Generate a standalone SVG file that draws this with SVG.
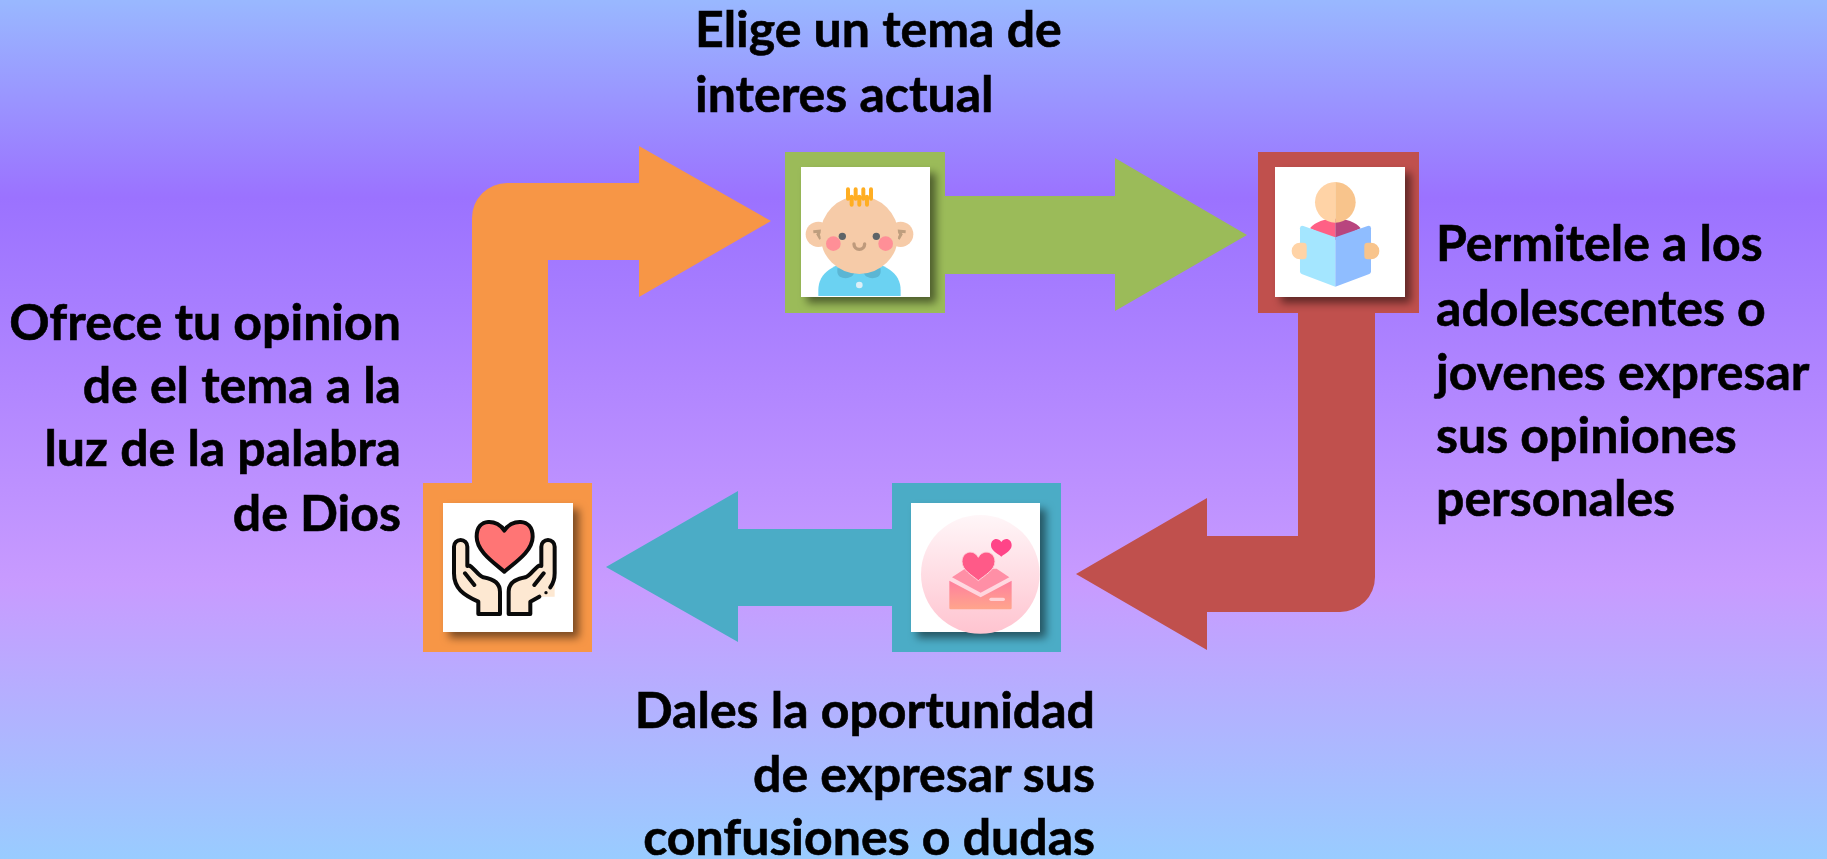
<svg xmlns="http://www.w3.org/2000/svg" width="1827" height="859" viewBox="0 0 1827 859">
<style>
.t{font-family:"Lato","Liberation Sans",sans-serif;font-weight:700;font-size:50px;fill:#000;stroke:#000;stroke-width:.6px}
.e{text-anchor:end}
.o{fill:#F79646}.g{fill:#9BBB59}.r{fill:#C0504D}.b{fill:#4BACC6}
.w{fill:#fff;filter:url(#sh)}
</style>
<defs>
<linearGradient id="bg" x1="0" y1="0" x2="0" y2="1">
<stop offset="0" stop-color="#99B8FF"/><stop offset=".23" stop-color="#9B72FF"/><stop offset=".68" stop-color="#C89BFF"/><stop offset="1" stop-color="#99CCFF"/>
</linearGradient>
<linearGradient id="c1" x1="0" y1="0" x2="0" y2="1"><stop offset="0" stop-color="#FFF6F8"/><stop offset="1" stop-color="#FFC4D0"/></linearGradient>
<linearGradient id="c2" x1="0" y1="0" x2="0" y2="1"><stop offset="0" stop-color="#FF7F9E"/><stop offset="1" stop-color="#FFA58C"/></linearGradient>
<filter id="sh" x="-20%" y="-20%" width="140%" height="140%"><feDropShadow dx="6" dy="6" stdDeviation="4.5" flood-color="#000" flood-opacity=".5"/></filter>
</defs>
<rect width="1827" height="859" fill="url(#bg)"/>
<g id="connectors">
<path class="o" d="M472 483V218a35 35 0 0 1 35-35H639V146L771 221 639 297V260H548V483Z"/>
<path class="g" d="M940 196H1115V158L1247 235 1115 311V274H940Z"/>
<path class="r" d="M1298 310H1375V577a35 35 0 0 1-35 35H1207V650L1076 574 1207 498V536H1298Z"/>
<path class="b" d="M895 529H738V491L606 567 738 642V606H895Z"/>
</g>
<g id="node-tema">
<rect class="g" x="785" y="152" width="160" height="161"/>
<rect class="w" x="801" y="167" width="129" height="130"/>
<g transform="translate(780 140) scale(.3333)">
<circle cx="115" cy="283" r="38" fill="#F6CBA8"/><circle cx="362" cy="283" r="38" fill="#F6CBA8"/>
<path d="M100 275l22-2-8 10 8 14M377 275l-22-2 8 10-8 14" fill="none" stroke="#BE9E7E" stroke-width="9"/>
<path d="M115 468V450C115 400 160 365 238 365S362 400 362 450V468Z" fill="#6BD2F2"/>
<path d="M172 385h130v10c0 25-45 25-50 5h-30c-5 20-50 20-50-5Z" fill="#5BB6D4"/>
<circle cx="238" cy="435" r="10" fill="#DDEFF7"/>
<circle cx="238" cy="285" r="117" fill="#F6CBA8"/>
<path d="M204 148v28M227 148v28M250 148v28M273 148v28M215 170v24M238 170v24M261 170v24" stroke="#FFAE22" stroke-width="12" stroke-linecap="round"/>
<circle cx="187" cy="289" r="11" fill="#5E6468"/><circle cx="289" cy="289" r="11" fill="#5E6468"/>
<circle cx="160" cy="311" r="22" fill="#FF8F97"/><circle cx="317" cy="311" r="22" fill="#FF8F97"/>
<path d="M222 312a16 16 0 0 0 32 0" fill="none" stroke="#BE9A7C" stroke-width="10" stroke-linecap="round"/>
</g>
</g>
<g id="node-expresar">
<rect class="r" x="1258" y="152" width="161" height="161"/>
<rect class="w" x="1275" y="167" width="130" height="130"/>
<g transform="translate(1255 140) scale(.3333)">
<path d="M165 265C180 245 210 236 241 236V300Z" fill="#FF6085"/>
<path d="M317 265C302 245 272 236 241 236V300Z" fill="#B8457E"/>
<path d="M241 126a61 61 0 0 0 0 122Z" fill="#FFD3A6"/><path d="M241 126a61 61 0 0 1 0 122Z" fill="#F8C48C"/>
<path d="M135 265q0-10 10-7L241 292V440L140 402q-5-2-5-8Z" fill="#A4E6FF"/>
<path d="M348 265q0-10-10-7L241 292V440L343 402q5-2 5-8Z" fill="#8FBDFF"/>
<path d="M135 308a25 25 0 0 0 0 50h10q10 0 10-10v-30q0-10-10-10Z" fill="#FFD3A6"/>
<path d="M348 308a25 25 0 0 1 0 50h-10q-10 0-10-10v-30q0-10 10-10Z" fill="#F8C48C"/>
</g>
</g>
<g id="node-dudas">
<rect class="b" x="892" y="483" width="169" height="169"/>
<rect class="w" x="911" y="503" width="129" height="129"/>
<g transform="translate(890 480) scale(.3333)">
<circle cx="271" cy="283" r="178" fill="url(#c1)"/>
<path d="M186 292L225 266H320L358 292 272 338Z" fill="#FF8FA6"/>
<path d="M178 302L272 352 365 302V384q0 4-4 4H182q-4 0-4-4Z" fill="url(#c2)"/>
<path d="M303 358h37" stroke="#FFD3D6" stroke-width="10" stroke-linecap="round"/>
<path d="M265 232C250 205 216 215 216 245C216 270 245 285 265 302C285 285 315 270 315 245C315 215 280 205 265 232Z" fill="#FF5A88" stroke="#FFD5DC" stroke-width="3"/>
<path d="M334 186C322 170 303 178 303 196C303 212 322 220 334 230C346 220 365 212 365 196C365 178 346 170 334 186Z" fill="#FF4488"/>
</g>
</g>
<g id="node-opinion">
<rect class="o" x="423" y="483" width="169" height="169"/>
<rect class="w" x="443" y="503" width="130" height="129"/>
<g transform="translate(420 480) scale(.3333)">
<g stroke="#0A0A0A" stroke-width="12" stroke-linejoin="round" stroke-linecap="round">
<path d="M253 152C235 118 170 110 170 170C170 215 225 250 253 275C281 250 338 215 338 170C338 110 271 118 253 152Z" fill="#FF7575"/>
<path d="M102 200a20 20 0 0 1 40 0V258C155 250 170 285 190 292C220 297 240 310 240 335V402H175V365C130 345 102 325 102 280Z" fill="#FDE8D2"/>
<path d="M404 200a20 20 0 0 0-40 0V258C351 250 336 285 316 292C286 297 266 310 266 335V402H331V365L358 350H404V200Z" fill="#FDE8D2" stroke="none"/>
<path d="M404 200a20 20 0 0 0-40 0V258C351 250 336 285 316 292C286 297 266 310 266 335V402H331V365L358 350M391 322C400 310 404 300 404 280V200" fill="none"/>
<path d="M135 280L163 315M371 280L343 315" fill="none"/>
</g>
<circle cx="378" cy="338" r="5" fill="#0A0A0A"/>
</g>
</g>
<g id="labels">
<text class="t" x="695" y="47">Elige un tema de</text>
<text class="t" x="695" y="112">interes actual</text>
<text class="t" x="1436" y="261">Permitele a los</text>
<text class="t" x="1436" y="326">adolescentes o</text>
<text class="t" x="1436" y="390">jovenes expresar</text>
<text class="t" x="1436" y="453">sus opiniones</text>
<text class="t" x="1436" y="516">personales</text>
<text class="t e" x="401" y="340">Ofrece tu opinion</text>
<text class="t e" x="401" y="403">de el tema a la</text>
<text class="t e" x="401" y="466">luz de la palabra</text>
<text class="t e" x="401" y="531">de Dios</text>
<text class="t e" x="1095" y="728">Dales la oportunidad</text>
<text class="t e" x="1095" y="792">de expresar sus</text>
<text class="t e" x="1095" y="855">confusiones o dudas</text>
</g>
</svg>
